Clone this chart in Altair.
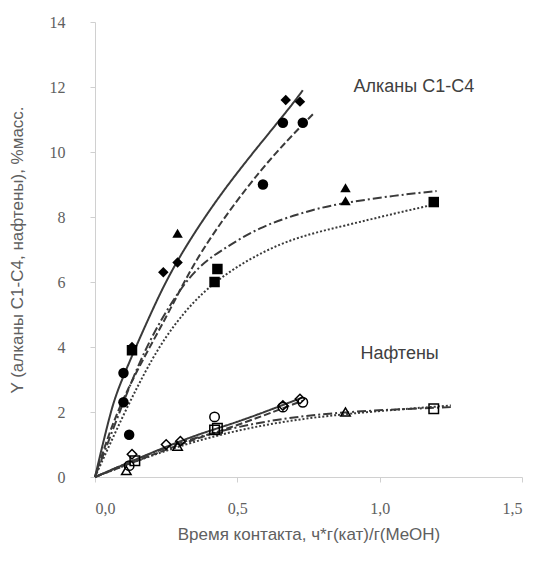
import altair as alt
import pandas as pd

# ---- data ----
# Alkanes C1-C4 (filled markers)
alk_diamond_x = [0.13, 0.24, 0.29, 0.67, 0.72]
alk_diamond_y = [4.0, 6.3, 6.6, 11.6, 11.55]
alk_circle_x = [0.10, 0.12, 0.10, 0.59, 0.66, 0.73]
alk_circle_y = [3.2, 1.3, 2.3, 9.0, 10.9, 10.9]
alk_triangle_x = [0.29, 0.88, 0.88]
alk_triangle_y = [7.5, 8.5, 8.9]
alk_square_x = [0.13, 0.42, 0.43, 1.19]
alk_square_y = [3.9, 6.0, 6.4, 8.46]

# Naphthenes (open markers)
naf_diamond_x = [0.13, 0.25, 0.30, 0.66, 0.72]
naf_diamond_y = [0.7, 1.0, 1.1, 2.2, 2.4]
naf_circle_x = [0.12, 0.42, 0.66, 0.73]
naf_circle_y = [0.35, 1.85, 2.15, 2.3]
naf_triangle_x = [0.11, 0.29, 0.88]
naf_triangle_y = [0.2, 0.95, 2.0]
naf_square_x = [0.14, 0.42, 0.43, 1.19]
naf_square_y = [0.5, 1.45, 1.5, 2.1]

# Trend lines
tr_alk_solid_x = [0, 0.05, 0.1, 0.2, 0.3, 0.46, 0.65, 0.73]
tr_alk_solid_y = [0, 1.8, 3.1, 5.1, 6.8, 8.9, 11.0, 11.9]
tr_alk_dash_x = [0, 0.1, 0.25, 0.38, 0.58, 0.77]
tr_alk_dash_y = [0, 2.4, 4.93, 7.0, 9.4, 11.2]
tr_alk_dashdot_x = [0, 0.1, 0.2, 0.33, 0.45, 0.58, 0.72, 0.86, 1.05, 1.2]
tr_alk_dashdot_y = [0, 2.3, 4.3, 6.1, 7.0, 7.65, 8.1, 8.4, 8.65, 8.8]
tr_alk_dot_x = [0, 0.1, 0.2, 0.3, 0.44, 0.65, 0.86, 1.05, 1.2]
tr_alk_dot_y = [0, 1.9, 3.6, 4.9, 6.1, 7.15, 7.7, 8.1, 8.4]

tr_naf_solid_x = [0, 0.3, 0.5, 0.73]
tr_naf_solid_y = [0, 1.1, 1.7, 2.45]
tr_naf_dash_x = [0, 0.3, 0.5, 0.73]
tr_naf_dash_y = [0, 1.0, 1.6, 2.35]
tr_naf_dashdot_x = [0, 0.3, 0.6, 0.9, 1.25]
tr_naf_dashdot_y = [0, 1.05, 1.7, 2.0, 2.15]
tr_naf_dot_x = [0, 0.3, 0.6, 0.9, 1.25]
tr_naf_dot_y = [0, 0.95, 1.6, 1.95, 2.2]

label_text = ["Алканы С1-С4", "Нафтены"]
label_x = [1.12, 1.07]
label_y = [12.0, 3.8]

x_title = "Время контакта, ч*г(кат)/г(MeOH)"
y_title = "Y (алканы С1-С4, нафтены), %масс."

# ---- tables ----
def pts(xs, ys, shape):
    return pd.DataFrame({"x": xs, "y": ys, "shape": shape})

filled = pd.concat([
    pts(alk_diamond_x, alk_diamond_y, "diamond"),
    pts(alk_circle_x, alk_circle_y, "circle"),
    pts(alk_triangle_x, alk_triangle_y, "triangle-up"),
    pts(alk_square_x, alk_square_y, "square"),
])
opened = pd.concat([
    pts(naf_diamond_x, naf_diamond_y, "diamond"),
    pts(naf_circle_x, naf_circle_y, "circle"),
    pts(naf_triangle_x, naf_triangle_y, "triangle-up"),
    pts(naf_square_x, naf_square_y, "square"),
])

def curve(xs, ys, name, style):
    return pd.DataFrame({"x": xs, "y": ys, "curve": name, "style": style})

curves = pd.concat([
    curve(tr_alk_solid_x, tr_alk_solid_y, "a1", "solid"),
    curve(tr_alk_dash_x, tr_alk_dash_y, "a2", "dash"),
    curve(tr_alk_dashdot_x, tr_alk_dashdot_y, "a3", "dashdot"),
    curve(tr_alk_dot_x, tr_alk_dot_y, "a4", "dot"),
    curve(tr_naf_solid_x, tr_naf_solid_y, "n1", "solid"),
    curve(tr_naf_dash_x, tr_naf_dash_y, "n2", "dash"),
    curve(tr_naf_dashdot_x, tr_naf_dashdot_y, "n3", "dashdot"),
    curve(tr_naf_dot_x, tr_naf_dot_y, "n4", "dot"),
])
labels = pd.DataFrame({"x": label_x, "y": label_y, "t": label_text})

xs = alt.Scale(domain=[0, 1.5], nice=False)
ys = alt.Scale(domain=[0, 14], nice=False)
shape_scale = alt.Scale(domain=["diamond", "circle", "triangle-up", "square"],
                        range=["diamond", "circle", "triangle-up", "square"])

xenc = alt.X("x:Q", scale=xs, title=x_title,
             axis=alt.Axis(values=[0, 0.5, 1.0, 1.5], format=".1f",
                           labelExpr="replace(datum.label, '.', ',')"))
yenc = alt.Y("y:Q", scale=ys, title=y_title,
             axis=alt.Axis(values=list(range(0, 15, 2))))

lines = alt.Chart(curves).mark_line(color="#3a3a3a", strokeWidth=2, interpolate="natural").encode(
    x=xenc, y=yenc, detail="curve:N",
    strokeDash=alt.StrokeDash("style:N",
        scale=alt.Scale(domain=["solid", "dash", "dashdot", "dot"],
                        range=[[1, 0], [7, 3], [9, 3, 2, 3], [2, 2]]),
        legend=None),
)

fpts = alt.Chart(filled).mark_point(filled=True, color="black", opacity=1, size=110).encode(
    x="x:Q", y="y:Q", shape=alt.Shape("shape:N", scale=shape_scale, legend=None))
opts = alt.Chart(opened).mark_point(filled=False, color="black", strokeWidth=1.5, opacity=1, size=90).encode(
    x="x:Q", y="y:Q", shape=alt.Shape("shape:N", scale=shape_scale, legend=None))

txt = alt.Chart(labels).mark_text(font="Liberation Sans", fontSize=18, color="#404040").encode(
    x="x:Q", y="y:Q", text="t:N")

chart = alt.layer(lines, fpts, opts, txt).properties(
    width=427, height=455,
    autosize=alt.AutoSizeParams(type="none"),
    padding={"left": 87, "top": 14, "right": 14, "bottom": 75},
).configure_view(stroke=None).configure_axis(
    grid=False, domainColor="#d0d0d0", tickColor="#d0d0d0", tickSize=5,
    labelFont="Liberation Serif", labelFontSize=16, labelColor="#606060",
    titleFont="Liberation Sans", titleFontSize=17, titleColor="#606060", titleFontWeight="normal",
).configure_axisX(labelPadding=18, titlePadding=10).configure_axisY(labelPadding=25, titlePadding=23)

chart.save("out.html", embed_options={"renderer": "svg", "actions": False})
